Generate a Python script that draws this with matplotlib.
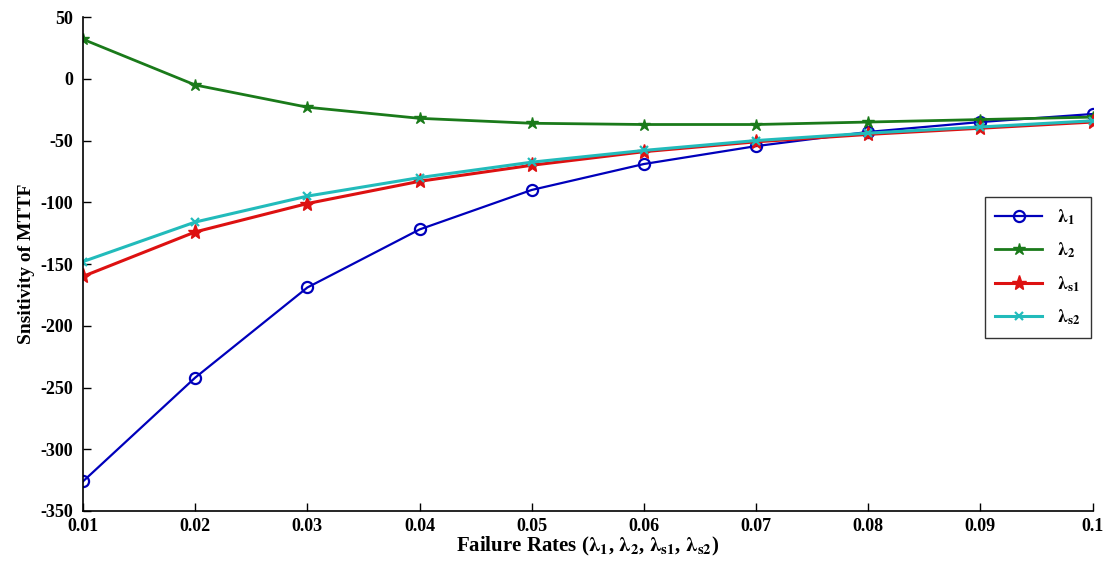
import matplotlib
matplotlib.use("Agg")
import matplotlib.pyplot as plt

x = [0.01, 0.02, 0.03, 0.04, 0.05, 0.06, 0.07, 0.08, 0.09, 0.10]
lam1 = [-326, -242, -169, -122, -90, -69, -54.5, -43, -35, -28.5]
lam2 = [32, -5, -23, -32, -36, -37, -37, -35, -33, -31]
lams1 = [-160, -124, -101, -83, -70, -59, -51, -45, -40, -35]
lams2 = [-148, -116, -95, -80, -67.5, -58, -50, -44, -39, -34]
labels = [r'$\mathbf{\lambda_1}$', r'$\mathbf{\lambda_2}$', r'$\mathbf{\lambda_{s1}}$', r'$\mathbf{\lambda_{s2}}$']
xticks = [0.01, 0.02, 0.03, 0.04, 0.05, 0.06, 0.07, 0.08, 0.09, 0.1]
xticklabels = ['0.01', '0.02', '0.03', '0.04', '0.05', '0.06', '0.07', '0.08', '0.09', '0.1']
yticks = [-350, -300, -250, -200, -150, -100, -50, 0, 50]

plt.rcParams['font.family'] = ['Liberation Serif', 'DejaVu Serif']
plt.rcParams['mathtext.fontset'] = 'stix'
plt.rcParams['axes.unicode_minus'] = False

fig = plt.figure(figsize=(11.07, 5.77), dpi=100)
ax = fig.add_axes([0.075, 0.1144, 0.912, 0.856])

ax.plot(x, lam1, color='#0000bb', marker='o', mfc='none', ms=8, mew=1.6, lw=1.6, label=labels[0])
ax.plot(x, lam2, color='#1a7a1a', marker='*', ms=9, lw=2.0, label=labels[1])
ax.plot(x, lams1, color='#dd1111', marker='*', ms=11, lw=2.2, label=labels[2])
ax.plot(x, lams2, color='#22bbbb', marker='x', ms=6, mew=1.6, lw=2.2, label=labels[3])

ax.set_xlim(0.01, 0.1)
ax.set_ylim(-350, 50)
ax.set_xticks(xticks)
ax.set_xticklabels(xticklabels)
ax.set_yticks(yticks)
ax.tick_params(direction='in', labelsize=13, length=6, width=1)
ax.tick_params(axis='y', pad=7)
ax.tick_params(axis='x', pad=5)
for lab in ax.get_xticklabels() + ax.get_yticklabels():
    lab.set_fontweight('bold')
ax.spines['top'].set_visible(False)
ax.spines['right'].set_visible(False)
for s in ['left', 'bottom']:
    ax.spines[s].set_linewidth(1.2)

ax.set_xlabel(r'Failure Rates ($\mathbf{\lambda_1}$, $\mathbf{\lambda_2}$, $\mathbf{\lambda_{s1}}$, $\mathbf{\lambda_{s2}}$)',
              fontsize=15, fontweight='bold', labelpad=0)
ax.set_ylabel('Snsitivity of MTTF', fontsize=14, fontweight='bold', labelpad=4)

leg = ax.legend(loc='upper left', bbox_to_anchor=(0.884, 0.655), fontsize=13, frameon=True,
                fancybox=False, edgecolor='black', handlelength=2.6, borderpad=0.6, labelspacing=0.75)
leg.get_frame().set_linewidth(1.0)

fig.savefig('out.png', dpi=100)
